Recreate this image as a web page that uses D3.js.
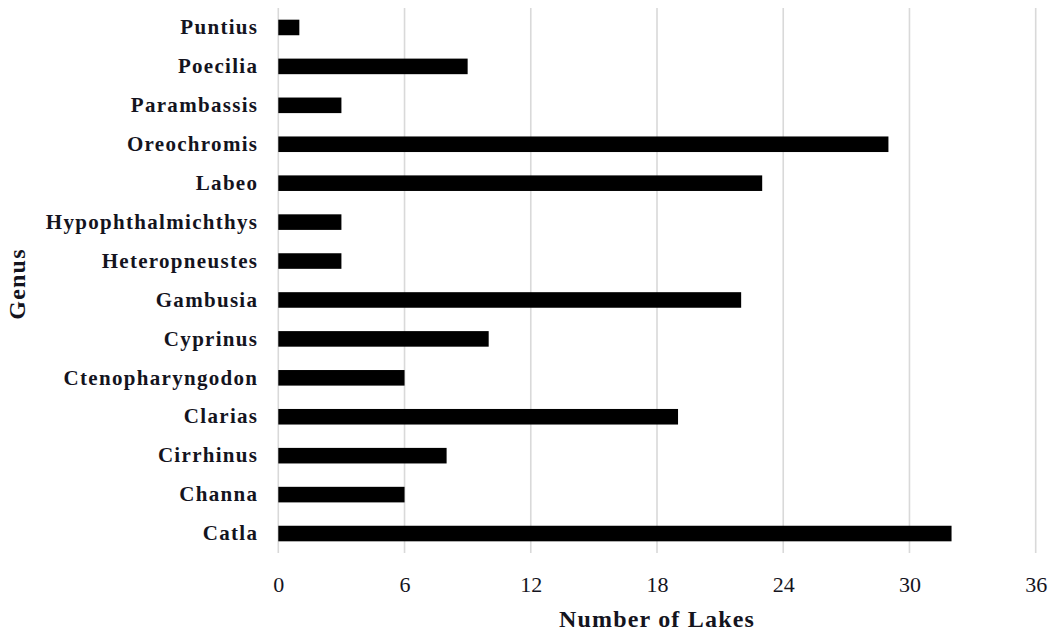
<!DOCTYPE html>
<html><head><meta charset="utf-8">
<script src="https://cdn.jsdelivr.net/npm/d3@7"></script>
<style>body{margin:0;background:#fff;} text{font-family:"Liberation Serif","Times New Roman",serif;}</style>
</head><body>
<svg id="c" width="1050" height="632"></svg>
<script>
const genera = ["Puntius","Poecilia","Parambassis","Oreochromis","Labeo","Hypophthalmichthys","Heteropneustes","Gambusia","Cyprinus","Ctenopharyngodon","Clarias","Cirrhinus","Channa","Catla"];
const lakes = [1,9,3,29,23,3,3,22,10,6,19,8,6,32];
const xTicks = [0,6,12,18,24,30,36];

const svg = d3.select("#c");
const pLeft = 278.3, pRight = 1035.7, pTop = 8, pBottom = 553;
const x = d3.scaleLinear().domain([0,36]).range([pLeft,pRight]);
const y = d3.scaleBand().domain(genera).range([pTop,pBottom]).paddingInner(0.6).paddingOuter(0.3);

svg.append("g").selectAll("line").data(xTicks).join("line")
  .attr("x1",d=>x(d)).attr("x2",d=>x(d)).attr("y1",pTop).attr("y2",pBottom)
  .attr("stroke","#d9d9d9").attr("stroke-width",1.6);

svg.append("g").selectAll("rect").data(genera).join("rect")
  .attr("x",x(0)).attr("y",d=>y(d)).attr("height",y.bandwidth())
  .attr("width",(d,i)=>x(lakes[i])-x(0)).attr("fill","#000");

const yAxis = svg.append("g").attr("transform",`translate(${pLeft},0)`)
  .call(d3.axisLeft(y).tickSize(0).tickPadding(20));
yAxis.select(".domain").remove();
yAxis.selectAll("text").attr("font-size",21).attr("font-weight","bold").attr("fill","#14141e")
  .attr("letter-spacing",1.3).style("font-family","'Liberation Serif',serif");

const xAxis = svg.append("g").attr("transform",`translate(0,${pBottom})`)
  .call(d3.axisBottom(x).tickValues(xTicks).tickSize(0).tickPadding(23));
xAxis.select(".domain").remove();
xAxis.selectAll("text").attr("font-size",22).attr("fill","#14141e")
  .style("font-family","'Liberation Serif',serif");

svg.append("text").attr("x",657).attr("y",627).attr("text-anchor","middle")
  .attr("font-size",24).attr("font-weight","bold").attr("fill","#14141e").attr("letter-spacing",1.2).text("Number of Lakes");
svg.append("text").attr("transform","translate(25,284) rotate(-90)").attr("text-anchor","middle")
  .attr("font-size",24).attr("font-weight","bold").attr("fill","#14141e").attr("letter-spacing",1.2).text("Genus");
</script>
</body></html>
